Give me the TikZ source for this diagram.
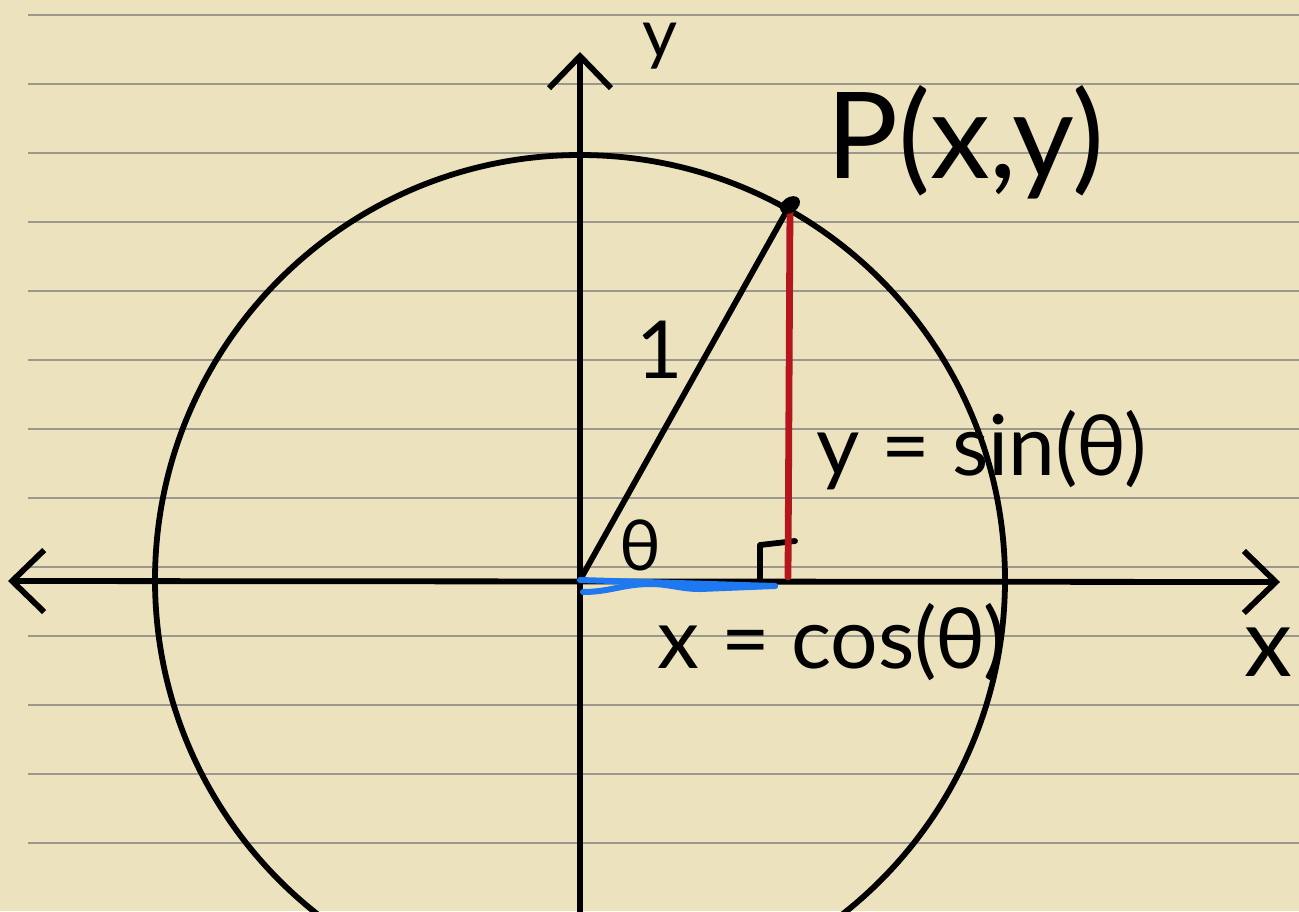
\documentclass[tikz,border=0pt]{standalone}
\usepackage{fontspec}
\setmainfont{Lato}
\usetikzlibrary{arrows.meta}
\definecolor{paper}{RGB}{236,227,190}
\definecolor{ruling}{RGB}{155,153,142}
\definecolor{sinred}{RGB}{180,22,28}
\definecolor{cosblue}{RGB}{30,120,240}

\begin{document}
\begin{tikzpicture}[x=0.5pt,y=-0.5pt,
  >={Straight Barb[length=16pt,width=31pt]},
  ruled/.style = {ruling, line width=0.7pt},
  ink/.style = {black, line width=2.9pt, line cap=round, line join=round},
  sinline/.style = {sinred, line width=3.4pt, line cap=round},
  cosline/.style = {cosblue, line width=3pt, line cap=round},
  lbl/.style = {font=\fontsize{#1}{#1}\selectfont, inner sep=0pt}]
\fill[paper] (0,0) rectangle (1299,911);
\useasboundingbox (0,0) rectangle (1299,911);
\clip (0,0) rectangle (1299,911);
% ruled paper
\foreach \k in {0,...,12} \draw[ruled] (28,15+69*\k) -- (1299,15+69*\k);

\coordinate (O) at (580,580); \coordinate (P) at (790,205); \coordinate (F) at (788,577);
\coordinate (xl) at (8,581); \coordinate (xr) at (1280,582);
\coordinate (yb) at (580,925); \coordinate (yt) at (580,52);
\coordinate (C) at (775,586);

% unit circle and axes
\draw[ink] (O) circle[radius=212.5pt];
\draw[ink,<->] (xl) -- (xr);
\draw[ink,->] (yb) -- (yt);

% triangle
\draw[ink] (O) -- (P);
\draw[ink] (760,580) -- (760,545) -- (795,541);
\draw[cosline] (O) -- (C);
\draw[cosline] (583,592) to[out=0,in=180] (650,584) to[out=0,in=180] (700,589) -- (C);
\draw[sinline] (P) -- (F);
\fill[rotate around={35:(P)}] (P) ellipse[x radius=5.5pt, y radius=3.8pt];

% labels
\node[lbl=34pt] (ylab) at (660,46) {y};
\node[lbl=60pt] (Plab) at (965,142) {P(x,y)};
\node[lbl=40pt] (one) at (660,350) {1};
\node[lbl=35pt] (theta) at (640,545) {θ};
\node[lbl=42pt] (sinlab) at (982,450) {y = sin(θ)};
\node[lbl=42pt] (coslab) at (832,642) {x = cos(θ)};
\node[lbl=48pt] (xlab) at (1268,652) {x};
\end{tikzpicture}
\end{document}
